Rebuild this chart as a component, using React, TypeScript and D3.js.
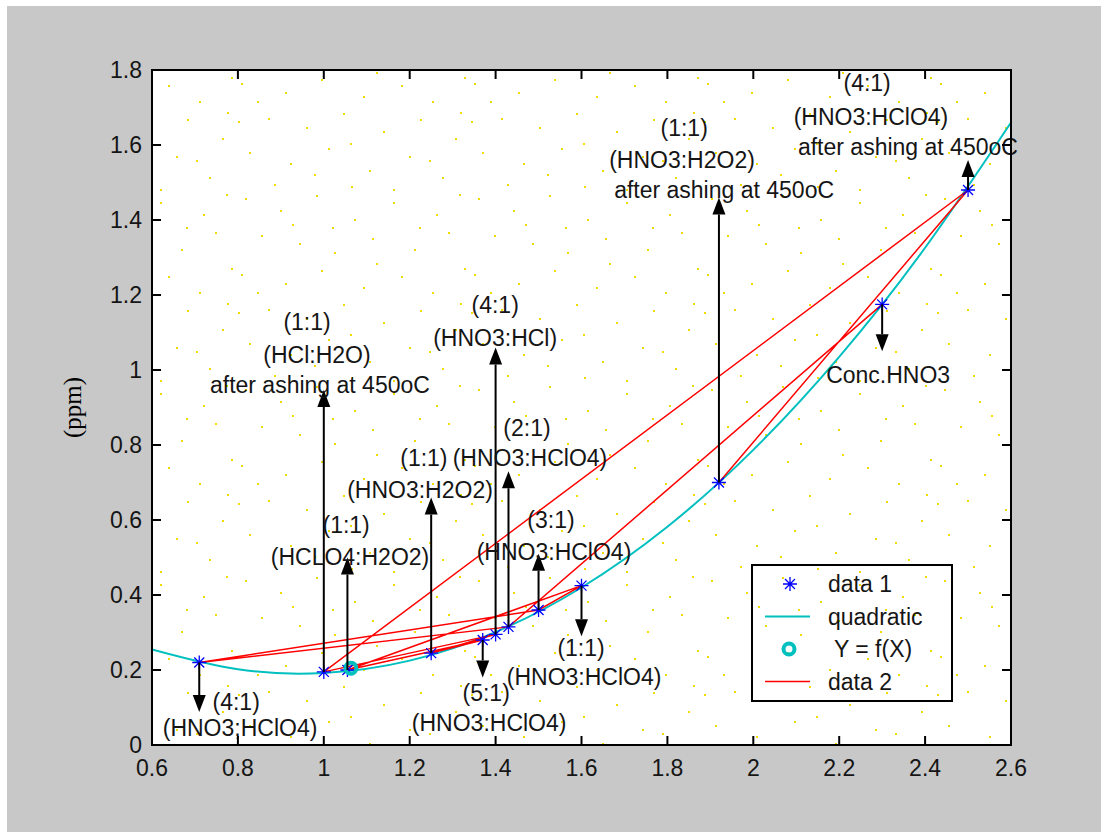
import React from 'react';
import * as d3 from 'd3';

// axis ticks
const xTicks = [0.6, 0.8, 1, 1.2, 1.4, 1.6, 1.8, 2, 2.2, 2.4, 2.6];
const yTicks = [0, 0.2, 0.4, 0.6, 0.8, 1, 1.2, 1.4, 1.6, 1.8];

// data 1 (blue stars)
const data1X = [0.71, 1.0, 1.055, 1.25, 1.37, 1.4, 1.43, 1.5, 1.6, 1.92, 2.3, 2.5];
const data1Y = [0.22, 0.195, 0.2, 0.245, 0.28, 0.295, 0.315, 0.36, 0.425, 0.7, 1.175, 1.48];

// quadratic fit
const quadX = [0.6, 0.8, 1.0, 1.2, 1.4, 1.6, 1.8, 2.0, 2.2, 2.4, 2.6];
const quadY = [0.255, 0.202, 0.192, 0.225, 0.301, 0.42, 0.582, 0.787, 1.035, 1.326, 1.66];

// Y = f(X) marker
const fX = [1.063];
const fY = [0.205];

// data 2 (red polyline, in plotting order)
const data2X = [2.3, 1.43, 0.71, 1.5, 1.6, 1.055, 1.37, 1.25, 1.4, 1.0, 2.5, 1.92];
const data2Y = [1.175, 0.315, 0.22, 0.36, 0.425, 0.2, 0.28, 0.245, 0.295, 0.195, 1.48, 0.7];

// annotation arrows: start at the data point, tip at arrowTo
const arrowX = [0.71, 1.0, 1.055, 1.25, 1.37, 1.4, 1.43, 1.5, 1.6, 1.92, 2.3, 2.5];
const arrowFrom = [0.22, 0.195, 0.2, 0.245, 0.28, 0.295, 0.315, 0.36, 0.425, 0.7, 1.175, 1.48];
const arrowTo = [0.088, 0.947, 0.5, 0.66, 0.18, 1.06, 0.73, 0.51, 0.29, 1.46, 1.05, 1.56];

// annotation texts (centre positions in data units)
const labelText = [
  '(4:1)', '(HNO3;HClO4)',
  '(1:1)', '(HCl:H2O)', 'after ashing at 450oC',
  '(1:1)', '(HCLO4:H2O2)',
  '(1:1)', '(HNO3:H2O2)',
  '(5:1)', '(HNO3:HClO4)',
  '(4:1)', '(HNO3:HCl)',
  '(2:1)', '(HNO3:HClO4)',
  '(3:1)', '(HNO3:HClO4)',
  '(1:1)', '(HNO3:HClO4)',
  '(1:1)', '(HNO3:H2O2)', 'after ashing at 450oC',
  'Conc.HNO3',
  '(4:1)', '(HNO3:HClO4)', 'after ashing at 450oC',
];
const labelX = [
  0.796, 0.805,
  0.961, 0.984, 0.991,
  1.052, 1.061,
  1.233, 1.224,
  1.378, 1.385,
  1.399, 1.399,
  1.473, 1.48,
  1.529, 1.536,
  1.599, 1.606,
  1.839, 1.834, 1.932,
  2.314,
  2.265, 2.274, 2.36,
];
const labelY = [
  0.115, 0.045,
  1.128, 1.04, 0.96,
  0.587, 0.501,
  0.765, 0.68,
  0.139, 0.059,
  1.173, 1.085,
  0.845, 0.765,
  0.6, 0.515,
  0.259, 0.181,
  1.645, 1.56, 1.48,
  0.987,
  1.765, 1.675, 1.595,
];

const legendNames = ['data 1', 'quadratic', ' Y = f(X)', 'data 2'];

// background speckle tile
const dotSpots = [
  [12, 7], [47, 19], [83, 4], [121, 28], [160, 11], [203, 23], [226, 3],
  [28, 44], [66, 52], [101, 61], [139, 47], [181, 58], [215, 41], [59, 33],
  [8, 83], [52, 92], [88, 79], [130, 96], [168, 85], [199, 101], [231, 77],
  [35, 118], [73, 127], [110, 113], [150, 131], [187, 119], [222, 138],
  [16, 152], [57, 163], [95, 148], [136, 170], [176, 156], [209, 177],
  [41, 184], [118, 186], [160, 189], [81, 174], [5, 121], [196, 160],
  [143, 72], [24, 101], [99, 36], [186, 36], [117, 143], [227, 112],
];

const FONT = '"Liberation Sans", Arial, sans-serif';
const CYAN = '#00bfbf';

const App = () => {
  const left = 152, top = 70, right = 1011, bottom = 745;
  const x = d3.scaleLinear().domain([0.6, 2.6]).range([left, right]);
  const y = d3.scaleLinear().domain([0, 1.8]).range([bottom, top]);

  const quadLine = d3.line<number>()
    .x((_, i) => x(quadX[i]))
    .y((_, i) => y(quadY[i]))
    .curve(d3.curveNatural);
  const redLine = d3.line<number>()
    .x((_, i) => x(data2X[i]))
    .y((_, i) => y(data2Y[i]));

  const star = (cx: number, cy: number) =>
    `M${cx - 7},${cy}h14M${cx},${cy - 7}v14M${cx - 5},${cy - 5}l10,10M${cx - 5},${cy + 5}l10,-10`;

  const fmt = (v: number) => d3.format('~g')(+v.toFixed(1));

  const lg = { x: 752, y: 565, w: 200, h: 136 };

  return (
    <svg width={1101} height={832} style={{ position: 'absolute', left: 0, top: 0, display: 'block' }}>
      <defs>
        <pattern id="dots" width={233} height={191} patternUnits="userSpaceOnUse">
          {dotSpots.map((d, i) => (
            <rect key={i} x={d[0]} y={d[1]} width={2} height={2} fill="#f0dc00" />
          ))}
        </pattern>
        <clipPath id="plotclip">
          <rect x={left} y={top} width={right - left} height={bottom - top} />
        </clipPath>
      </defs>
      <rect x={0} y={0} width={1101} height={832} fill="#fff" />
      <rect x={7} y={6} width={1094} height={826} fill="#c8c8c8" />
      <rect x={left} y={top} width={right - left} height={bottom - top} fill="#fff" />
      <rect x={left} y={top} width={right - left} height={bottom - top} fill="url(#dots)" />

      <g clipPath="url(#plotclip)">
        <path d={quadLine(quadX) || ''} fill="none" stroke={CYAN} strokeWidth={2} />
        <path d={redLine(data2X) || ''} fill="none" stroke="#ff0000" strokeWidth={1.5} />
      </g>

      {data1X.map((v, i) => (
        <path key={i} d={star(x(v), y(data1Y[i]))} stroke="#0000ff" strokeWidth={1.3} fill="none" />
      ))}
      {fX.map((v, i) => (
        <circle key={i} cx={x(v)} cy={y(fY[i])} r={5.5} fill="none" stroke={CYAN} strokeWidth={4} />
      ))}

      {arrowX.map((v, i) => {
        const cx = x(v);
        const y0 = y(arrowFrom[i]);
        const y1 = y(arrowTo[i]);
        const dir = y1 < y0 ? 1 : -1;
        const base = y1 + dir * 17;
        return (
          <g key={i}>
            <line x1={cx} x2={cx} y1={y0} y2={base} stroke="#000" strokeWidth={2} />
            <path d={`M${cx},${y1}L${cx - 6.5},${base}L${cx + 6.5},${base}Z`} fill="#000" />
          </g>
        );
      })}

      {labelText.map((t, i) => (
        <text key={i} x={x(labelX[i])} y={y(labelY[i])} textAnchor="middle" dominantBaseline="central"
          fontFamily={FONT} fontSize={23} fill="#151515">{t}</text>
      ))}

      {/* frame and ticks */}
      <rect x={left} y={top} width={right - left} height={bottom - top} fill="none" stroke="#000" strokeWidth={2} />
      {xTicks.map((t, i) => (
        <g key={i}>
          <line x1={x(t)} x2={x(t)} y1={bottom} y2={bottom - 9} stroke="#000" strokeWidth={2} />
          <line x1={x(t)} x2={x(t)} y1={top} y2={top + 9} stroke="#000" strokeWidth={2} />
          <text x={x(t)} y={768} textAnchor="middle" dominantBaseline="central" fontFamily={FONT}
            fontSize={23} fill="#151515">{fmt(t)}</text>
        </g>
      ))}
      {yTicks.map((t, i) => (
        <g key={i}>
          <line x1={left} x2={left + 9} y1={y(t)} y2={y(t)} stroke="#000" strokeWidth={2} />
          <line x1={right} x2={right - 9} y1={y(t)} y2={y(t)} stroke="#000" strokeWidth={2} />
          <text x={142} y={y(t)} textAnchor="end" dominantBaseline="central" fontFamily={FONT}
            fontSize={23} fill="#151515">{fmt(t)}</text>
        </g>
      ))}
      <text transform={`translate(72,${y(0.9)}) rotate(-90)`} textAnchor="middle" dominantBaseline="central"
        fontFamily='"Liberation Serif", "Times New Roman", serif' fontSize={25} fill="#000">(ppm)</text>

      {/* legend */}
      <rect x={lg.x} y={lg.y} width={lg.w} height={lg.h} fill="none" stroke="#000" strokeWidth={2} />
      {legendNames.map((name, i) => {
        const cy = lg.y + 19 + i * 32.5;
        return (
          <g key={i}>
            {i === 0 && <path d={star(lg.x + 38, cy)} stroke="#0000ff" strokeWidth={1.3} fill="none" />}
            {i === 1 && <line x1={lg.x + 13} x2={lg.x + 58} y1={cy} y2={cy} stroke={CYAN} strokeWidth={2} />}
            {i === 2 && <circle cx={lg.x + 37} cy={cy} r={5.5} fill="none" stroke={CYAN} strokeWidth={4} />}
            {i === 3 && <line x1={lg.x + 13} x2={lg.x + 58} y1={cy} y2={cy} stroke="#ff0000" strokeWidth={1.5} />}
            <text x={lg.x + 76} y={cy} dominantBaseline="central" fontFamily={FONT} fontSize={23}
              fill="#151515" style={{ whiteSpace: 'pre' }}>{name}</text>
          </g>
        );
      })}
    </svg>
  );
};

export default App;
